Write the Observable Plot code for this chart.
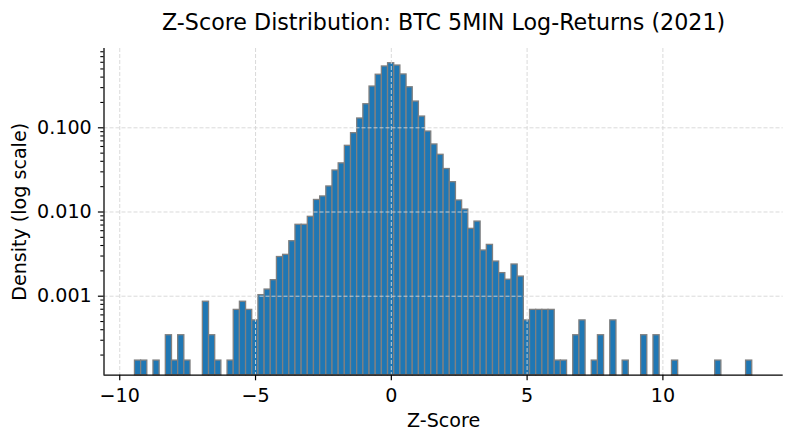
<!DOCTYPE html>
<html>
<head>
<meta charset="utf-8">
<script src="https://cdn.jsdelivr.net/npm/d3@7"></script>
<script src="https://cdn.jsdelivr.net/npm/@observablehq/plot@0.6"></script>
<style>
  html, body { margin: 0; padding: 0; background: #fff; }
  svg { display: block; }
</style>
</head>
<body>
<div id="chart"></div>
<script>
// ---- data ----
const titleText = "Z-Score Distribution: BTC 5MIN Log-Returns (2021)";
const xLabelText = "Z-Score";
const yLabelText = "Density (log scale)";

// histogram bin range (100 equal-width bins)
const binStart = -9.44;
const binEnd = 13.29;

// density per bin, left to right (0 = empty bin)
const density = [
  0.000172, 0.000172, 0, 0.000172, 0, 0.000344, 0.000172, 0.000344, 0.000172, 0,
  0, 0.00086, 0.000344, 0.000172, 0, 0.000172, 0.000688, 0.00086, 0.000688, 0.000516,
  0.00103, 0.0012, 0.00155, 0.00292, 0.0031, 0.00450, 0.00705, 0.00705, 0.00877, 0.0139,
  0.0153, 0.0201, 0.0311, 0.0378, 0.0611, 0.0863, 0.129, 0.1905, 0.309, 0.427,
  0.535, 0.585, 0.549, 0.430, 0.303, 0.205, 0.136, 0.0903, 0.0634, 0.0478,
  0.0324, 0.0226, 0.0137, 0.0107, 0.00631, 0.0077, 0.00349, 0.00407, 0.00258, 0.00188,
  0.00157, 0.00238, 0.00171, 0.000516, 0.000688, 0.000688, 0.000688, 0.000688, 0.000172, 0.000172,
  0, 0.000344, 0.000516, 0, 0.000172, 0.000344, 0, 0.000516, 0, 0.000172,
  0, 0, 0.000344, 0, 0.000344, 0, 0, 0.000172, 0, 0,
  0, 0, 0, 0, 0.000172, 0, 0, 0, 0, 0.000172
];

const xTicks = [-10, -5, 0, 5, 10];
const yTicks = [0.1, 0.01, 0.001];
const yTickLabels = ["0.100", "0.010", "0.001"];

// axis extents
const xDomain = [-10.58, 14.43];
const yDomain = [1.153e-4, 0.8746];

// ---- build ----
const binWidth = (binEnd - binStart) / density.length;
const bins = density
  .map((d, i) => ({ x1: binStart + i * binWidth, x2: binStart + (i + 1) * binWidth, d }))
  .filter(b => b.d > 0);

const minorTicks = [];
for (let e = -4; e <= -1; e++) {
  for (let m = 2; m <= 9; m++) {
    const v = m * Math.pow(10, e);
    if (v > yDomain[0] && v < yDomain[1]) minorTicks.push(v);
  }
}

const font = "DejaVu Sans, Liberation Sans, sans-serif";
const fs = 19.1;
const gridStyle = { stroke: "#d6d6d6", strokeOpacity: 0.9, strokeDasharray: "4,2", strokeWidth: 1 };

const chart = Plot.plot({
  width: 794,
  height: 442,
  marginTop: 48,
  marginBottom: 67.3,
  marginLeft: 103.5,
  marginRight: 11.3,
  style: { fontFamily: font, fontSize: fs + "px", color: "#000", background: "#fff", overflow: "visible" },
  x: { domain: xDomain },
  y: { type: "log", domain: yDomain },
  marks: [
    Plot.rect(bins, {
      x1: "x1", x2: "x2", y1: yDomain[0], y2: "d",
      fill: "#1f77b4", stroke: "#808080", strokeWidth: 1.3
    }),
    Plot.gridX(xTicks, gridStyle),
    Plot.gridY(yTicks, gridStyle),
    Plot.ruleX([xDomain[0]], { stroke: "#000", strokeWidth: 1.25 }),
    Plot.ruleY([yDomain[0]], { stroke: "#000", strokeWidth: 1.25 }),
    Plot.axisY(minorTicks, { tickSize: 3.2, tickFormat: () => "", label: null, strokeWidth: 1.1, stroke: "#000" }),
    Plot.axisY(yTicks, {
      tickSize: 5.6, tickPadding: 6.7, label: null, strokeWidth: 1.2, stroke: "#000",
      tickFormat: d => yTickLabels[yTicks.indexOf(d)], fontSize: fs
    }),
    Plot.axisX(xTicks, { tickSize: 5.6, tickPadding: 7.15, label: null, strokeWidth: 1.2, stroke: "#000", fontSize: fs }),
    Plot.text([titleText], { text: d => d, frameAnchor: "top", lineAnchor: "top", dy: -34.5, fontSize: 22.2, fill: "#000" }),
    Plot.text([xLabelText], { text: d => d, frameAnchor: "bottom", lineAnchor: "top", dy: 38.7, fontSize: fs, fill: "#000" }),
    Plot.text([yLabelText], { text: d => d, frameAnchor: "left", textAnchor: "middle", lineAnchor: "top", rotate: -90, dx: -91.8, fontSize: fs, fill: "#000" })
  ]
});

document.getElementById("chart").appendChild(chart);
</script>
</body>
</html>
